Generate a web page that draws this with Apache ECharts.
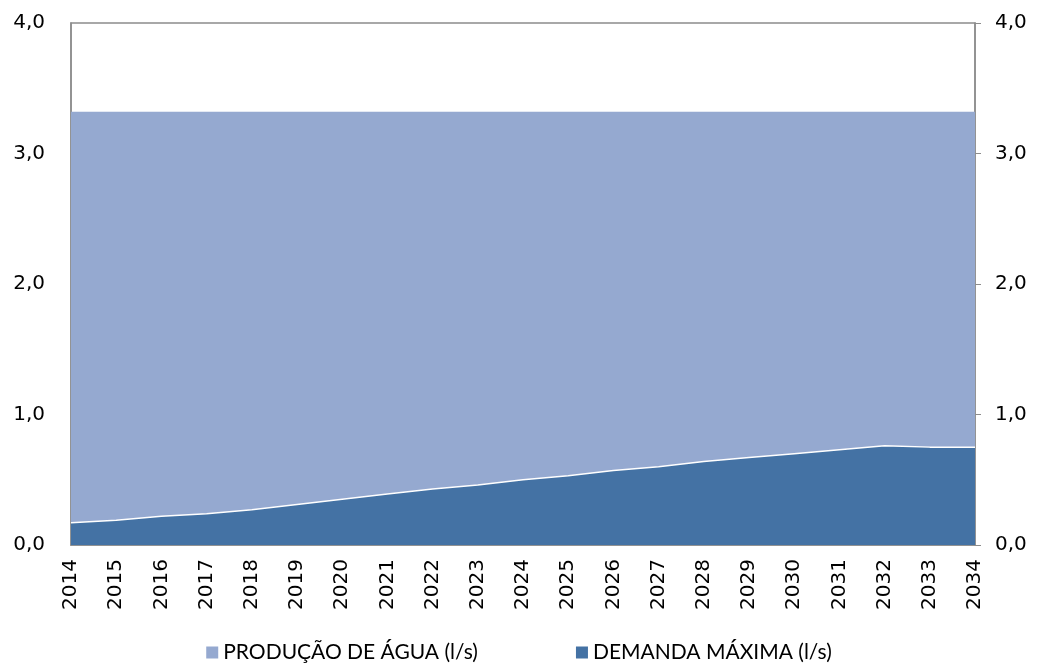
<!DOCTYPE html>
<html>
<head>
<meta charset="utf-8">
<script src="https://cdn.jsdelivr.net/npm/echarts@6/dist/echarts.min.js"></script>
<style>
  html, body { margin: 0; padding: 0; background: #fff; }
  #chart { width: 1038px; height: 668px; }
</style>
</head>
<body>
<div id="chart"></div>
<script>
// anos
var years = ['2014', '2015', '2016', '2017', '2018', '2019', '2020', '2021', '2022', '2023', '2024',
  '2025', '2026', '2027', '2028', '2029', '2030', '2031', '2032', '2033', '2034'];
// produção de água (l/s)
var producao = [3.32, 3.32, 3.32, 3.32, 3.32, 3.32, 3.32, 3.32, 3.32, 3.32, 3.32,
  3.32, 3.32, 3.32, 3.32, 3.32, 3.32, 3.32, 3.32, 3.32, 3.32];
// demanda máxima (l/s)
var demanda = [0.17, 0.19, 0.22, 0.24, 0.27, 0.31, 0.35, 0.39, 0.43, 0.46, 0.50,
  0.53, 0.57, 0.60, 0.64, 0.67, 0.70, 0.73, 0.76, 0.75, 0.75];
var legendNames = ['PRODUÇÃO DE ÁGUA (l/s)', 'DEMANDA MÁXIMA (l/s)'];

var axisFont = 'DejaVu Sans, Verdana, sans-serif';
var fmt = function (v) { return v.toFixed(1).replace('.', ','); };

var yAxisBase = function (pos, margin, tick) {
  return {
    type: 'value',
    position: pos,
    min: 0, max: 4, interval: 1,
    axisLine: { show: true, lineStyle: { color: '#8c8c8c', width: 1.5 } },
    axisTick: { show: tick, length: 6, lineStyle: { color: '#8c8c8c' } },
    splitLine: { show: false },
    axisLabel: { color: '#000', fontSize: 20, fontFamily: axisFont, margin: margin, formatter: fmt }
  };
};

var option = {
  animation: false,
  grid: {
    left: 71, right: 63, top: 23, bottom: 123,
    show: true, borderColor: '#8c8c8c', borderWidth: 1.5
  },
  legend: {
    bottom: 0, left: 'center',
    itemWidth: 12, itemHeight: 12, itemGap: 98,
    icon: 'rect',
    textStyle: { fontSize: 21, color: '#000', fontFamily: 'Lato, Open Sans, sans-serif' },
    data: legendNames
  },
  xAxis: [
    {
      type: 'category',
      data: years,
      boundaryGap: false,
      axisLine: { show: true, lineStyle: { color: '#8c8c8c', width: 1.5 } },
      axisTick: { show: false },
      axisLabel: { show: false }
    },
    {
      // só os rótulos, um pouco abaixo do eixo
      type: 'category',
      data: years,
      position: 'bottom',
      offset: 10,
      boundaryGap: false,
      axisLine: { show: false },
      axisTick: { show: false },
      splitLine: { show: false },
      axisLabel: { rotate: 90, interval: 0, margin: 4, color: '#000', fontSize: 20, fontFamily: axisFont }
    }
  ],
  yAxis: [yAxisBase('left', 26, false), yAxisBase('right', 20, true)],
  series: [
    {
      name: legendNames[0], type: 'line', data: producao, symbol: 'none',
      itemStyle: { color: '#95a9d0' },
      lineStyle: { width: 0 },
      areaStyle: { color: '#95a9d0', opacity: 1 },
      z: 1
    },
    {
      name: legendNames[1], type: 'line', data: demanda, symbol: 'none',
      itemStyle: { color: '#4472a4' },
      lineStyle: { width: 1.5, color: '#ffffff' },
      areaStyle: { color: '#4472a4', opacity: 1 },
      z: 2
    }
  ]
};

var myChart = echarts.init(document.getElementById('chart'));
myChart.setOption(option);
</script>
</body>
</html>
